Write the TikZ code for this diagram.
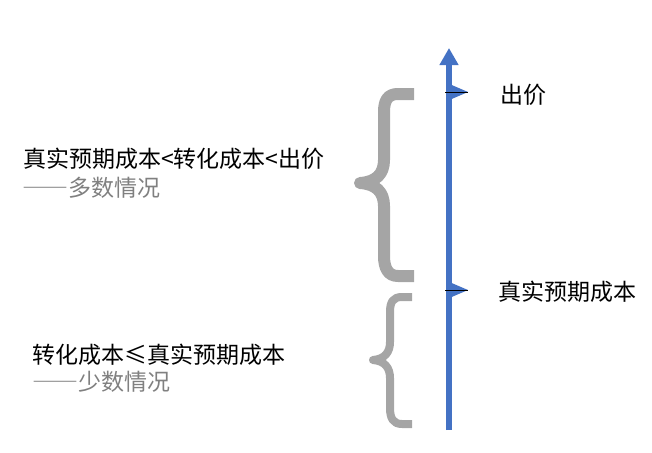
\documentclass[tikz,border=0pt]{standalone}
\usepackage{fontspec}
\setmainfont{Noto Sans CJK SC}
\newfontfamily\fullwd[CharacterWidth=Full]{Noto Sans CJK SC}
\usetikzlibrary{arrows.meta}
\definecolor{axisblue}{HTML}{4472C4}
\definecolor{bracegray}{HTML}{A5A5A5}
\definecolor{notegray}{HTML}{808080}
\tikzset{
  lbl/.style={anchor=base west,inner sep=0pt,font=\fontsize{23}{28}\selectfont},
  tickflag/.style={fill=axisblue,draw=none},
  brace/.style={draw=bracegray,line cap=butt,line join=round}
}

\begin{document}
\begin{tikzpicture}[x=1pt,y=-1pt]
  \useasboundingbox (0,0) rectangle (652,452);
  % axis
  \coordinate (axbot) at (449,430);
  \coordinate (axtop) at (449,48);
  \draw[axisblue,line width=6pt,-{Triangle[width=18pt,length=17pt]}] (axbot) -- (axtop);
  % ticks on the axis
  \coordinate (bid) at (447,92);
  \coordinate (cost) at (447,290);
  \fill[tickflag] (bid) ++(0,-9) -- ++(21,9) -- ++(-21,9) -- cycle;
  \fill[tickflag] (cost) ++(0,-9) -- ++(21,9) -- ++(-21,9) -- cycle;
  \draw[line width=.8pt] (bid) ++(-2,0) -- ++(23,0);
  \draw[line width=.8pt] (cost) ++(-2,0) -- ++(23,0);
  \draw(500,103) node[lbl] (bidlbl) {出价};
  \draw(498,300) node[lbl] (costlbl) {真实预期成本};
  % braces
  \draw[brace,line width=12pt] (414,94) -- (398,94) .. controls (388,94) and (384,100) .. (384,112) -- (384,160) .. controls (384,174) and (376,182) .. (360,183) .. controls (376,184) and (384,192) .. (384,206) -- (384,256) .. controls (384,268) and (388,276) .. (398,276) -- (414,276);
  \draw[brace,line width=8pt] (412,297) -- (402,297) .. controls (393,297) and (390,302) .. (390,312) -- (390,342) .. controls (390,352) and (385,359) .. (373,360) .. controls (385,361) and (390,368) .. (390,378) -- (390,408) .. controls (390,418) and (393,424) .. (402,424) -- (412,424);
  % notes on the left
  \draw(23,167) node[lbl] (manyA) {真实预期成本<转化成本<出价};
  \draw(22,196) node[lbl,text=notegray] (manyB) {{\fullwd ——}多数情况};
  \draw(32,363) node[lbl] (fewA) {转化成本≤真实预期成本};
  \draw(32,390) node[lbl,text=notegray] (fewB) {{\fullwd ——}少数情况};
\end{tikzpicture}
\end{document}
